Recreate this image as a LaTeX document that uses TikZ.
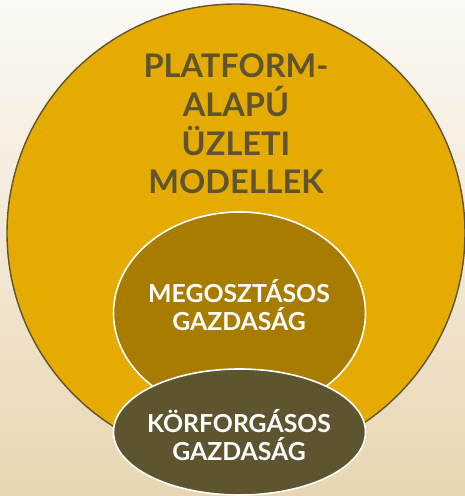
\documentclass[tikz,border=0pt]{standalone}
\usepackage{fontspec}
\setmainfont{Lato}
\usetikzlibrary{shapes.geometric}
\definecolor{bgtop}{HTML}{FBF9F5}
\definecolor{bgbottom}{HTML}{E8D6B2}
\definecolor{gold}{HTML}{E6AB00}
\definecolor{ochre}{HTML}{A87C00}
\definecolor{olive}{HTML}{5E5530}
\begin{document}
\begin{tikzpicture}[x=1pt, y=1pt,
    blob/.style={ellipse, draw=white, line width=1.6pt, inner sep=0pt,
        minimum width=252pt},
    blobtext/.style={text=white, align=center,
        font=\bfseries\fontsize{24.8}{28.5}\selectfont}]
    \useasboundingbox (0, 0) rectangle (465, 496);
    \shade[top color=bgtop, bottom color=bgbottom] (0, 0) rectangle (465, 496);
    \node[circle, draw=olive, fill=gold, line width=1.4pt, minimum size=458pt] (platform) at (236, 263) {};
    \node[text=olive, align=center, font=\bfseries\fontsize{32.5}{38.7}\selectfont] (platformtext) at (236, 372)
        {PLATFORM-\\ALAPÚ\\ÜZLETI\\MODELLEK};
    \node[blob, fill=ochre, minimum height=202pt] (sharing) at (239.5, 183) {};
    \node[blob, fill=olive, minimum height=126pt] (circular) at (239.5, 64) {};
    \node[blobtext] (sharingtext) at (239, 191) {MEGOSZTÁSOS\\GAZDASÁG};
    \node[blobtext] (circulartext) at (239, 61) {KÖRFORGÁSOS\\GAZDASÁG};
\end{tikzpicture}
\end{document}
